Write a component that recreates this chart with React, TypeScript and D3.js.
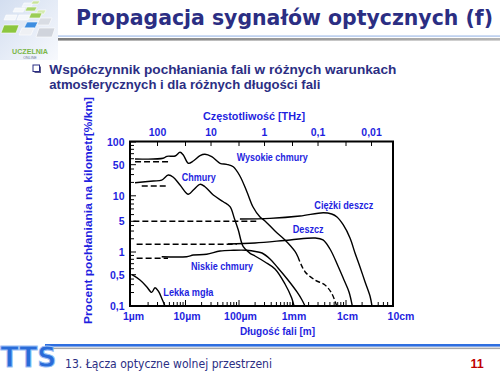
import React from 'react';
import * as d3 from 'd3';

// ---- axis ticks ----
const wavelengthTickValues = [1, 10, 100, 1000, 10000, 100000]; // µm
const wavelengthTickLabels = ['1µm', '10µm', '100µm', '1mm', '1cm', '10cm'];
const frequencyTickValues = [100, 10, 1, 0.1, 0.01]; // THz
const frequencyTickLabels = ['100', '10', '1', '0,1', '0,01'];
const frequencyMinorValues = [100, 30, 10, 3, 1, 0.3, 0.1, 0.03, 0.01]; // THz
const yTickValues = [100, 50, 10, 5, 1, 0.5, 0.1];
const yTickLabels = ['100', '50', '10', '5', '1', '0,5', '0,1'];

// ---- series: [wavelength µm, % per km] ----
const wysokieChmury: [number, number][] = [
  [1.14, 59.6], [3.8, 60.8], [4.5, 64.6], [6.4, 65.2], [7.9, 73], [9.1, 67.2], [11.3, 52.2],
  [14, 56], [18.7, 65.8], [23.1, 68.7], [30.9, 63.8], [44.2, 52.2], [58.9, 50.6], [78.2, 45.1],
  [104, 27.9], [141, 12.2], [183, 7.38], [247, 5.62], [306, 5.05], [471, 3.0], [724, 1.88],
  [1114, 1.03], [1267, 0.86],
];
const wysokieChmuryTail: [number, number][] = [
  [1267, 0.86], [1713, 0.548], [2634, 0.381], [4050, 0.294], [5400, 0.192], [6700, 0.1],
];
const chmury: [number, number][] = [
  [1.14, 19.7], [2.5, 21.5], [3.59, 22.6], [4.77, 29.3], [5.92, 26.1], [7.9, 17.5], [11.3, 10.8],
  [14, 13.5], [18.7, 18.1], [23.1, 16.0], [33.1, 10.4], [50.9, 8.51], [67.9, 7.44], [82, 5.4],
  [97, 3.17], [120, 1.32], [161, 0.96], [199, 0.885], [306, 0.737], [471, 0.595], [724, 0.31],
  [966, 0.151], [1067, 0.1],
];
const niskieChmury: [number, number][] = [
  [3.59, 0.866], [10.5, 0.866], [14, 0.912], [24.9, 0.932], [44.2, 1.054], [78.2, 1.093],
  [139, 1.093], [214, 1.016], [269, 0.97], [380, 0.808], [536, 0.614], [824, 0.381],
  [1213, 0.206], [1506, 0.136], [1713, 0.1],
];
const lekkaMgla: [number, number][] = [
  [1.0, 0.5], [1.41, 0.381], [1.88, 0.27], [2.33, 0.202], [2.69, 0.256], [3.1, 0.216],
  [3.59, 0.149], [4.14, 0.1],
];
const ciezkiDeszcz: [number, number][] = [
  [104, 5.32], [380, 5.42], [1381, 5.78], [3764, 6.32], [5400, 6.1], [6790, 5.62], [8910, 4.12],
  [11880, 2.08], [14730, 0.97], [18270, 0.633], [22650, 0.349], [28100, 0.167], [30620, 0.1],
];
const deszcz: [number, number][] = [
  [62.3, 1.52], [199, 1.6], [898, 1.88], [2634, 2.08], [3715, 1.88], [5020, 1.17], [7080, 0.652],
  [9180, 0.381], [11380, 0.206], [13120, 0.1],
];
// dashed reference levels
const refWysokie: [number, number][] = [[1.14, 54.8], [4.77, 54.8]];
const refChmury: [number, number][] = [[1.52, 16.6], [4.77, 16.6]];
const refCiezki: [number, number][] = [[1.06, 5], [210, 5]];
const refDeszcz: [number, number][] = [[1.22, 1.5], [90.6, 1.5]];
const refNiskie: [number, number][] = [[1.22, 0.825], [4.71, 0.825]];

const BLUE = '#1f1fe0';
const NAVY = '#2b2e83';
const FONT = "'Liberation Sans', Arial, sans-serif";

export default function App() {
  const X0 = 130, X1 = 393, Y0 = 141.5, Y1 = 306;
  const xScale = d3.scaleLog().domain([1, 1e5]).range([132, 399.5]);
  const yScale = d3
    .scaleLog()
    .domain([0.1, 0.5, 1, 5, 10, 50, 100])
    .range([306, 274.7, 252, 221.3, 195.8, 164.7, 142]);

  const line = d3
    .line<[number, number]>()
    .x((d) => xScale(d[0]))
    .y((d) => yScale(d[1]))
    .curve(d3.curveCatmullRom.alpha(0.5));
  const straight = d3
    .line<[number, number]>()
    .x((d) => xScale(d[0]))
    .y((d) => yScale(d[1]));

  const xMinor: number[] = [];
  for (let n = 0; n < 5; n++) for (let k = 2; k <= 9; k++) {
    const v = k * Math.pow(10, n);
    if (xScale(v) < X1 - 2) xMinor.push(v);
  }
  const xMajor = wavelengthTickValues.filter((v) => xScale(v) > X0 + 2 && xScale(v) < X1 - 2);
  const yMinor: number[] = [];
  for (let n = -1; n < 2; n++) for (let k = 2; k <= 9; k++) {
    const v = k * Math.pow(10, n);
    if (k !== 5) yMinor.push(v);
  }

  const tiles: { p: number[][]; c: string }[] = [
    { p: [[24, 3], [33, 3], [31, 7], [22, 7]], c: '#eef3fa' },
    { p: [[33, 1], [40, 1], [38, 4], [31, 4]], c: '#c7e39a' },
    { p: [[15, 8], [25, 8], [23, 12], [13, 12]], c: '#f4f7fb' },
    { p: [[27, 7], [37, 7], [35, 11], [25, 11]], c: '#a9d46a' },
    { p: [[38, 10], [46, 10], [44, 14], [36, 14]], c: '#d3eab0' },
    { p: [[6, 15], [17, 15], [15, 20], [4, 20]], c: '#f4f7fb' },
    { p: [[19, 15], [30, 15], [28, 20], [17, 20]], c: '#f4f7fb' },
    { p: [[31, 13], [42, 13], [40, 18], [29, 18]], c: '#9bcd55' },
    { p: [[4, 25], [19, 25], [16, 33], [1, 33]], c: '#8cc63f' },
    { p: [[27, 22], [38, 22], [35, 28], [24, 28]], c: '#3d8de0' },
    { p: [[40, 18], [52, 18], [49, 25], [37, 25]], c: '#d9dde4' },
    { p: [[22, 28], [34, 28], [31, 35], [19, 35]], c: '#eef0f4' },
    { p: [[39, 28], [55, 28], [52, 37], [36, 37]], c: '#d0d4dc' },
  ];

  return (
    <svg width={500} height={375} style={{ position: 'absolute', left: 0, top: 0, background: '#fff' }} fontFamily={FONT}>
      <defs>
        <linearGradient id="logoBg" x1="0" y1="0" x2="1" y2="1">
          <stop offset="0" stopColor="#d3def0" />
          <stop offset="1" stopColor="#f7f9fd" />
        </linearGradient>
        <linearGradient id="rule" x1="0" y1="0" x2="1" y2="0">
          <stop offset="0" stopColor="#7d7d7d" />
          <stop offset="1" stopColor="#b5b5b5" />
        </linearGradient>
      </defs>
      <rect x={0} y={0} width={500} height={375} fill="#fff" />

      {/* logo */}
      <rect x={0} y={0} width={58} height={60} fill="url(#logoBg)" />
      {tiles.map((t, i) => (
        <polygon key={i} points={t.p.map((q) => q.join(',')).join(' ')} fill={t.c} stroke="#ffffff" strokeWidth={0.6} />
      ))}
      <text x={30} y={54} textAnchor="middle" fontSize={8} fontWeight="bold" fill="#7ab648" textLength={36} lengthAdjust="spacingAndGlyphs">UCZELNIA</text>
      <text x={30} y={58.8} textAnchor="middle" fontSize={3.6} fill="#6c7a99">ONLINE</text>

      {/* title */}
      <text x={76} y={25} fontFamily="'DejaVu Sans Condensed', 'DejaVu Sans', sans-serif" fontWeight="bold" fontSize={21} fill={NAVY} textLength={417} lengthAdjust="spacingAndGlyphs">Propagacja sygnałów optycznych (f)</text>
      <rect x={58} y={35.3} width={442} height={1.6} fill="#b9cdee" />
      <rect x={58} y={38} width={442} height={2.6} fill="url(#rule)" />

      {/* bullet */}
      <rect x={34.5} y={66.5} width={6.5} height={6.5} fill="#5a5a8a" />
      <rect x={33} y={65} width={6.5} height={6.5} fill="#fff" stroke={NAVY} strokeWidth={1} />
      <text x={49.3} y={74.2} fontWeight="bold" fontSize={12.5} fill={NAVY} textLength={347} lengthAdjust="spacingAndGlyphs">Współczynnik pochłaniania fali w różnych warunkach</text>
      <text x={49.3} y={89.3} fontWeight="bold" fontSize={12.5} fill={NAVY} textLength={271} lengthAdjust="spacingAndGlyphs">atmosferycznych i dla różnych długości fali</text>

      {/* axis titles */}
      <text x={254} y={120} textAnchor="middle" fontWeight="bold" fontSize={11.5} fill={BLUE} textLength={102} lengthAdjust="spacingAndGlyphs">Częstotliwość [THz]</text>
      <text x={277.5} y={335} textAnchor="middle" fontWeight="bold" fontSize={11.5} fill={BLUE} textLength={75} lengthAdjust="spacingAndGlyphs">Długość fali [m]</text>
      <text transform="translate(92,210.5) rotate(-90)" textAnchor="middle" fontWeight="bold" fontSize={11} fill={BLUE} textLength={227} lengthAdjust="spacingAndGlyphs">Procent pochłaniania na kilometr[%/km]</text>

      {/* top tick labels */}
      {frequencyTickValues.map((f, i) => (
        <text key={f} x={xScale(300 / f)} y={135.5} textAnchor="middle" fontWeight="bold" fontSize={10.5} fill={BLUE}>{frequencyTickLabels[i]}</text>
      ))}
      {/* y tick labels */}
      {yTickValues.map((v, i) => (
        <text key={v} x={124.5} y={yScale(v) + 3.8} textAnchor="end" fontWeight="bold" fontSize={10.5} fill={BLUE}>{yTickLabels[i]}</text>
      ))}
      {/* bottom tick labels */}
      {wavelengthTickValues.map((v, i) => (
        <text key={v} x={xScale(v) + 1.5} y={320} textAnchor="middle" fontWeight="bold" fontSize={10.5} fill={BLUE}>{wavelengthTickLabels[i]}</text>
      ))}

      {/* ticks */}
      <g stroke="#000" strokeWidth={1}>
        {xMinor.map((v) => (
          <line key={'xm' + v} x1={xScale(v)} x2={xScale(v)} y1={Y1} y2={Y1 - 4} />
        ))}
        {xMajor.map((v) => (
          <line key={'xM' + v} x1={xScale(v)} x2={xScale(v)} y1={Y1} y2={Y1 - 6} />
        ))}
        {frequencyMinorValues.map((f) => (
          <line key={'t' + f} x1={xScale(300 / f)} x2={xScale(300 / f)} y1={Y0} y2={Y0 + 4.5} />
        ))}
        {yMinor.map((v) => (
          <line key={'ym' + v} x1={X0} x2={X0 + 4} y1={yScale(v)} y2={yScale(v)} />
        ))}
        {yTickValues.map((v) => (
          <line key={'yM' + v} x1={X0} x2={X0 + 6} y1={yScale(v)} y2={yScale(v)} />
        ))}
      </g>

      {/* frame */}
      <rect x={X0} y={Y0} width={X1 - X0} height={Y1 - Y0} fill="none" stroke="#000" strokeWidth={2} />

      {/* reference dashed levels */}
      <g fill="none" stroke="#000" strokeWidth={1.4} strokeDasharray="6,3">
        {[refWysokie, refChmury, refCiezki, refDeszcz, refNiskie].map((r, i) => (
          <path key={i} d={straight(r) || ''} />
        ))}
      </g>

      {/* curves */}
      <g fill="none" stroke="#000" strokeWidth={1.4} strokeLinejoin="round">
        <path d={line(wysokieChmury) || ''} />
        <path d={line(wysokieChmuryTail) || ''} strokeDasharray="5,2.5" />
        <path d={line(chmury) || ''} />
        <path d={line(niskieChmury) || ''} />
        <path d={line(lekkaMgla) || ''} />
        <path d={line(ciezkiDeszcz) || ''} />
        <path d={line(deszcz) || ''} />
      </g>

      {/* curve labels */}
      <g fontWeight="bold" fontSize={10} fill={BLUE}>
        <text x={236.7} y={161} textLength={71} lengthAdjust="spacingAndGlyphs">Wysokie chmury</text>
        <text x={181.7} y={180.5} textLength={34} lengthAdjust="spacingAndGlyphs">Chmury</text>
        <text x={314.3} y={208.5} textLength={59} lengthAdjust="spacingAndGlyphs">Ciężki deszcz</text>
        <text x={292.7} y={233} textLength={31} lengthAdjust="spacingAndGlyphs">Deszcz</text>
        <text x={191} y={270} textLength={62} lengthAdjust="spacingAndGlyphs">Niskie chmury</text>
        <text x={163.3} y={295.5} textLength={50} lengthAdjust="spacingAndGlyphs">Lekka mgła</text>
      </g>

      {/* footer */}
      <rect x={45} y={344} width={455} height={2.6} fill="#2f6fe0" />
      <rect x={45} y={347.6} width={455} height={1.5} fill="#a8a8a8" />
      <text x={0.5} y={367} fontFamily="'DejaVu Sans', sans-serif" fontWeight="bold" fontSize={29} fill="#2a6bd8" stroke="#9cc0f5" strokeWidth={1} textLength={56} lengthAdjust="spacingAndGlyphs">TTS</text>
      <text x={65} y={367.5} fontFamily="'DejaVu Sans', sans-serif" fontSize={12} fill={NAVY} textLength={207} lengthAdjust="spacingAndGlyphs">13. Łącza optyczne wolnej przestrzeni</text>
      <text x={477} y={367.5} textAnchor="middle" fontWeight="bold" fontSize={12.5} fill="#c00000">11</text>
    </svg>
  );
}
